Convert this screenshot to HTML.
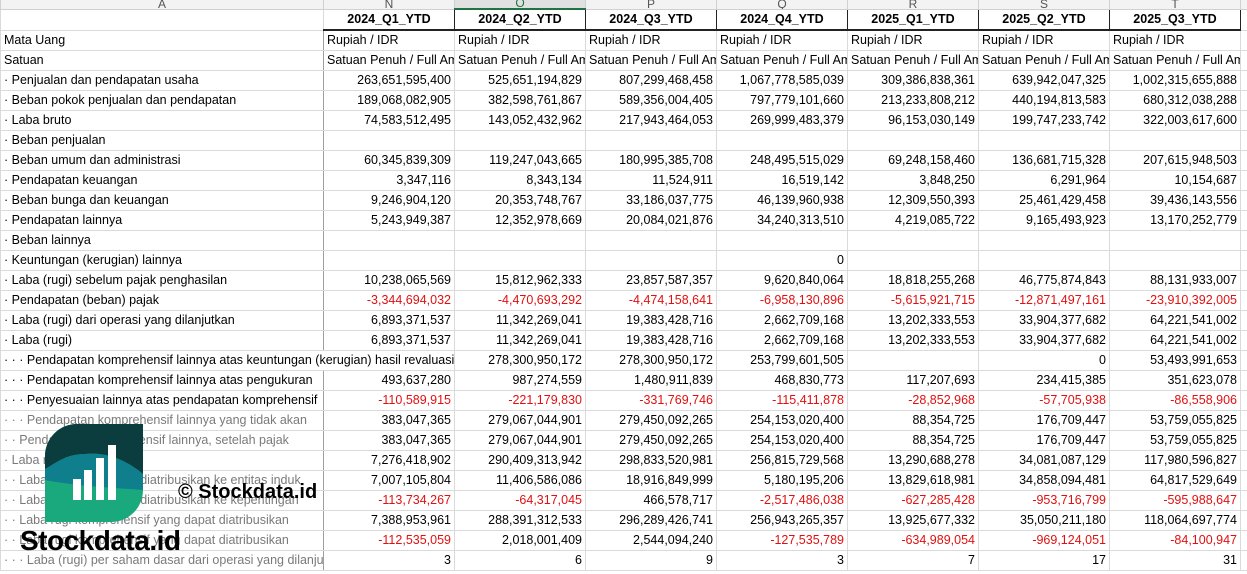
<!DOCTYPE html>
<html><head><meta charset="utf-8"><style>
body{margin:0;width:1247px;height:574px;overflow:hidden;background:#fff;font-family:"Liberation Sans",Arial,sans-serif;font-size:12.5px;color:#000;position:relative}
table{border-collapse:collapse;table-layout:fixed;position:absolute;left:0;top:-2px;width:1260px}
td{height:19px;padding:0 3px;border:1px solid #dadada;white-space:nowrap;overflow:hidden;line-height:19px;box-sizing:border-box}
td.n{text-align:right}
td.a{border-right:1px solid #9e9e9e}
.r{color:#e01010}
tr.g td.a{color:#7a7a7a}
tr.h td{font-weight:bold;text-align:center;border-bottom:2px solid #222;border-left:1px solid #222;border-right:1px solid #222}
tr.h td.a{border:1px solid #dadada;border-bottom:1px solid #dadada}
tr.c td{height:10px;line-height:9px;font-size:12px;color:#555;text-align:center;background:#f3f3f3;border-color:#d0d0d0;overflow:hidden;vertical-align:bottom}
tr.c td.sel{background:#e1e1e1;border-bottom:2px solid #217346;color:#217346}
</style></head><body>
<table>
<colgroup><col style="width:323px"><col style="width:131px"><col style="width:131px"><col style="width:131px"><col style="width:131px"><col style="width:131px"><col style="width:131px"><col style="width:131px"><col style="width:20px"></colgroup>
<tr class="c"><td>A</td><td>N</td><td class="sel">O</td><td>P</td><td>Q</td><td>R</td><td>S</td><td>T</td><td></td></tr>
<tr class="h"><td class="a"></td><td>2024_Q1_YTD</td><td>2024_Q2_YTD</td><td>2024_Q3_YTD</td><td>2024_Q4_YTD</td><td>2025_Q1_YTD</td><td>2025_Q2_YTD</td><td>2025_Q3_YTD</td><td style="border:1px solid #dadada"></td></tr>
<tr><td class="a">Mata Uang</td><td>Rupiah / IDR</td><td>Rupiah / IDR</td><td>Rupiah / IDR</td><td>Rupiah / IDR</td><td>Rupiah / IDR</td><td>Rupiah / IDR</td><td>Rupiah / IDR</td><td></td></tr>
<tr><td class="a">Satuan</td><td>Satuan Penuh / Full Amount</td><td>Satuan Penuh / Full Amount</td><td>Satuan Penuh / Full Amount</td><td>Satuan Penuh / Full Amount</td><td>Satuan Penuh / Full Amount</td><td>Satuan Penuh / Full Amount</td><td>Satuan Penuh / Full Amount</td><td></td></tr>
<tr><td class="a">· Penjualan dan pendapatan usaha</td><td class="n">263,651,595,400</td><td class="n">525,651,194,829</td><td class="n">807,299,468,458</td><td class="n">1,067,778,585,039</td><td class="n">309,386,838,361</td><td class="n">639,942,047,325</td><td class="n">1,002,315,655,888</td><td></td></tr>
<tr><td class="a">· Beban pokok penjualan dan pendapatan</td><td class="n">189,068,082,905</td><td class="n">382,598,761,867</td><td class="n">589,356,004,405</td><td class="n">797,779,101,660</td><td class="n">213,233,808,212</td><td class="n">440,194,813,583</td><td class="n">680,312,038,288</td><td></td></tr>
<tr><td class="a">· Laba bruto</td><td class="n">74,583,512,495</td><td class="n">143,052,432,962</td><td class="n">217,943,464,053</td><td class="n">269,999,483,379</td><td class="n">96,153,030,149</td><td class="n">199,747,233,742</td><td class="n">322,003,617,600</td><td></td></tr>
<tr><td class="a">· Beban penjualan</td><td></td><td></td><td></td><td></td><td></td><td></td><td></td><td></td></tr>
<tr><td class="a">· Beban umum dan administrasi</td><td class="n">60,345,839,309</td><td class="n">119,247,043,665</td><td class="n">180,995,385,708</td><td class="n">248,495,515,029</td><td class="n">69,248,158,460</td><td class="n">136,681,715,328</td><td class="n">207,615,948,503</td><td></td></tr>
<tr><td class="a">· Pendapatan keuangan</td><td class="n">3,347,116</td><td class="n">8,343,134</td><td class="n">11,524,911</td><td class="n">16,519,142</td><td class="n">3,848,250</td><td class="n">6,291,964</td><td class="n">10,154,687</td><td></td></tr>
<tr><td class="a">· Beban bunga dan keuangan</td><td class="n">9,246,904,120</td><td class="n">20,353,748,767</td><td class="n">33,186,037,775</td><td class="n">46,139,960,938</td><td class="n">12,309,550,393</td><td class="n">25,461,429,458</td><td class="n">39,436,143,556</td><td></td></tr>
<tr><td class="a">· Pendapatan lainnya</td><td class="n">5,243,949,387</td><td class="n">12,352,978,669</td><td class="n">20,084,021,876</td><td class="n">34,240,313,510</td><td class="n">4,219,085,722</td><td class="n">9,165,493,923</td><td class="n">13,170,252,779</td><td></td></tr>
<tr><td class="a">· Beban lainnya</td><td></td><td></td><td></td><td></td><td></td><td></td><td></td><td></td></tr>
<tr><td class="a">· Keuntungan (kerugian) lainnya</td><td></td><td></td><td></td><td class="n">0</td><td></td><td></td><td></td><td></td></tr>
<tr><td class="a">· Laba (rugi) sebelum pajak penghasilan</td><td class="n">10,238,065,569</td><td class="n">15,812,962,333</td><td class="n">23,857,587,357</td><td class="n">9,620,840,064</td><td class="n">18,818,255,268</td><td class="n">46,775,874,843</td><td class="n">88,131,933,007</td><td></td></tr>
<tr><td class="a">· Pendapatan (beban) pajak</td><td class="n r">-3,344,694,032</td><td class="n r">-4,470,693,292</td><td class="n r">-4,474,158,641</td><td class="n r">-6,958,130,896</td><td class="n r">-5,615,921,715</td><td class="n r">-12,871,497,161</td><td class="n r">-23,910,392,005</td><td></td></tr>
<tr><td class="a">· Laba (rugi) dari operasi yang dilanjutkan</td><td class="n">6,893,371,537</td><td class="n">11,342,269,041</td><td class="n">19,383,428,716</td><td class="n">2,662,709,168</td><td class="n">13,202,333,553</td><td class="n">33,904,377,682</td><td class="n">64,221,541,002</td><td></td></tr>
<tr><td class="a">· Laba (rugi)</td><td class="n">6,893,371,537</td><td class="n">11,342,269,041</td><td class="n">19,383,428,716</td><td class="n">2,662,709,168</td><td class="n">13,202,333,553</td><td class="n">33,904,377,682</td><td class="n">64,221,541,002</td><td></td></tr>
<tr><td colspan="2">· · · Pendapatan komprehensif lainnya atas keuntungan (kerugian) hasil revaluasi</td><td class="n">278,300,950,172</td><td class="n">278,300,950,172</td><td class="n">253,799,601,505</td><td></td><td class="n">0</td><td class="n">53,493,991,653</td><td></td></tr>
<tr><td class="a">· · · Pendapatan komprehensif lainnya atas pengukuran</td><td class="n">493,637,280</td><td class="n">987,274,559</td><td class="n">1,480,911,839</td><td class="n">468,830,773</td><td class="n">117,207,693</td><td class="n">234,415,385</td><td class="n">351,623,078</td><td></td></tr>
<tr><td class="a">· · · Penyesuaian lainnya atas pendapatan komprehensif</td><td class="n r">-110,589,915</td><td class="n r">-221,179,830</td><td class="n r">-331,769,746</td><td class="n r">-115,411,878</td><td class="n r">-28,852,968</td><td class="n r">-57,705,938</td><td class="n r">-86,558,906</td><td></td></tr>
<tr class="g"><td class="a">· · · Pendapatan komprehensif lainnya yang tidak akan</td><td class="n">383,047,365</td><td class="n">279,067,044,901</td><td class="n">279,450,092,265</td><td class="n">254,153,020,400</td><td class="n">88,354,725</td><td class="n">176,709,447</td><td class="n">53,759,055,825</td><td></td></tr>
<tr class="g"><td class="a">· · Pendapatan komprehensif lainnya, setelah pajak</td><td class="n">383,047,365</td><td class="n">279,067,044,901</td><td class="n">279,450,092,265</td><td class="n">254,153,020,400</td><td class="n">88,354,725</td><td class="n">176,709,447</td><td class="n">53,759,055,825</td><td></td></tr>
<tr class="g"><td class="a">· Laba rugi komprehensif</td><td class="n">7,276,418,902</td><td class="n">290,409,313,942</td><td class="n">298,833,520,981</td><td class="n">256,815,729,568</td><td class="n">13,290,688,278</td><td class="n">34,081,087,129</td><td class="n">117,980,596,827</td><td></td></tr>
<tr class="g"><td class="a">· · Laba rugi yang dapat diatribusikan ke entitas induk</td><td class="n">7,007,105,804</td><td class="n">11,406,586,086</td><td class="n">18,916,849,999</td><td class="n">5,180,195,206</td><td class="n">13,829,618,981</td><td class="n">34,858,094,481</td><td class="n">64,817,529,649</td><td></td></tr>
<tr class="g"><td class="a">· · Laba rugi yang dapat diatribusikan ke kepentingan</td><td class="n r">-113,734,267</td><td class="n r">-64,317,045</td><td class="n">466,578,717</td><td class="n r">-2,517,486,038</td><td class="n r">-627,285,428</td><td class="n r">-953,716,799</td><td class="n r">-595,988,647</td><td></td></tr>
<tr class="g"><td class="a">· · Laba rugi komprehensif yang dapat diatribusikan</td><td class="n">7,388,953,961</td><td class="n">288,391,312,533</td><td class="n">296,289,426,741</td><td class="n">256,943,265,357</td><td class="n">13,925,677,332</td><td class="n">35,050,211,180</td><td class="n">118,064,697,774</td><td></td></tr>
<tr class="g"><td class="a">· · Laba rugi komprehensif yang dapat diatribusikan</td><td class="n r">-112,535,059</td><td class="n">2,018,001,409</td><td class="n">2,544,094,240</td><td class="n r">-127,535,789</td><td class="n r">-634,989,054</td><td class="n r">-969,124,051</td><td class="n r">-84,100,947</td><td></td></tr>
<tr class="g"><td class="a">· · · Laba (rugi) per saham dasar dari operasi yang dilanjutkan</td><td class="n">3</td><td class="n">6</td><td class="n">9</td><td class="n">3</td><td class="n">7</td><td class="n">17</td><td class="n">31</td><td></td></tr>
</table>
<svg style="position:absolute;left:45px;top:424px" width="98" height="98" viewBox="0 0 98 98">
<defs><clipPath id="cp"><path d="M32 0H98V66A32 32 0 0 1 66 98H0V32A32 32 0 0 1 32 0Z"/></clipPath></defs>
<g clip-path="url(#cp)">
<rect width="98" height="98" fill="#1aa97c"/>
<path d="M0 0H98V50C80 35 60 28 40 30C20 30 10 40 0 45Z" fill="#0b3d3e"/>
<path d="M0 45C10 40 20 30 40 30C60 28 80 35 98 50V66C70 64 30 62 0 56Z" fill="#0f7f8e"/>
</g>
<rect x="28" y="55" width="8" height="21" fill="#fff"/>
<rect x="39" y="46" width="8" height="30" fill="#fff"/>
<rect x="51" y="34" width="8" height="42" fill="#fff"/>
<rect x="63" y="21" width="8" height="55" fill="#fff"/>
</svg>
<div style="position:absolute;left:20px;top:525px;font-size:28px;font-weight:bold;letter-spacing:-0.5px;color:#000">Stockdata.id</div>
<div style="position:absolute;left:178px;top:481px;font-size:20px;font-weight:bold;color:#000">© Stockdata.id</div>
</body></html>
